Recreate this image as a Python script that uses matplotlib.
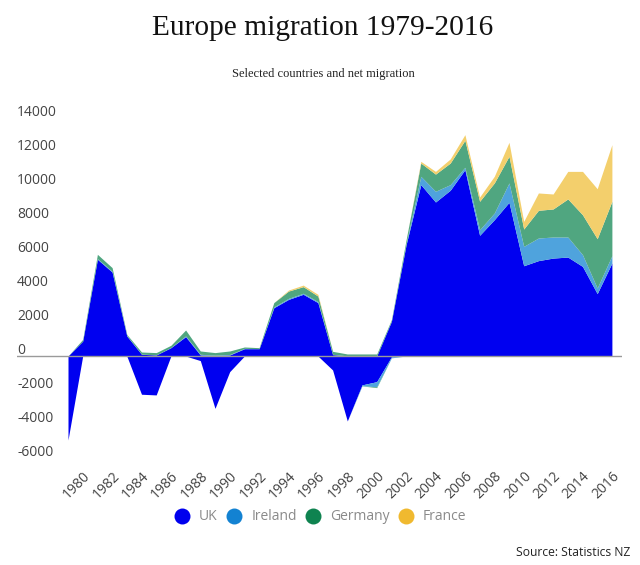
import numpy as np
import matplotlib
matplotlib.use("Agg")
import matplotlib.pyplot as plt
from matplotlib.lines import Line2D
from matplotlib.transforms import ScaledTranslation

years = list(range(1979, 2017))
countries = ["UK", "Ireland", "Germany", "France"]

uk_pos = [0, 880, 5690, 4940, 1180, 100, 60, 490, 1140, 60, 20, 60, 430, 430, 2840, 3330, 3630, 3140, 80,
          0, 0, 0, 2040, 6550, 10080, 9060, 9750, 10960, 7100, 8020, 9040, 5310, 5610, 5760, 5820, 5270, 3670, 5470]
ireland_pos = [0, 0, 40, 40, 20, 10, 10, 10, 40, 40, 30, 30, 20, 0, 50, 60, 60, 60, 20,
               10, 10, 10, 20, 60, 490, 630, 330, 140, 330, 390, 1140, 1140, 1330, 1240, 1180, 690, 330, 430]
germany_pos = [0, 100, 250, 220, 70, 125, 130, 130, 350, 195, 150, 205, 80, 60, 250, 430, 390, 325, 175,
               110, 110, 110, 80, 230, 780, 1010, 1270, 1590, 1670, 1770, 1570, 1020, 1630, 1650, 2240, 2350, 2900, 3200]
france_pos = [0, 0, 0, 0, 0, 0, 0, 0, 0, 0, 0, 0, 0, 0, 0, 60, 90, 100, 0,
              0, 0, 0, 0, 0, 100, 160, 240, 330, 250, 390, 820, 450, 1020, 880, 1620, 2550, 2940, 3330]

uk_neg = [-4940, 0, 0, 0, 0, -2250, -2290, 0, 0, -270, -3080, -920, 0, 0, 0, 0, 0, 0, -820,
          -3820, -1700, -1510, -50, 0, 0, 0, 0, 0, 0, 0, 0, 0, 0, 0, 0, 0, 0, 0]
ireland_neg = [0, 0, 0, 0, 0, 0, 0, 0, 0, 0, 0, 0, 0, 0, 0, 0, 0, 0, 0,
               0, -50, -300, -60, 0, 0, 0, 0, 0, 0, 0, 0, 0, 0, 0, 0, 0, 0, 0]
germany_neg = [0, 0, 0, 0, 0, 0, 0, 0, 0, 0, 0, 0, 0, 0, 0, 0, 0, 0, 0,
               0, -10, -50, 0, 0, 0, 0, 0, 0, 0, 0, 0, 0, 0, 0, 0, 0, 0, 0]

y_ticks = list(range(-6000, 14001, 2000))
x_ticks = list(range(1980, 2017, 2))

area_colors = ["#0000f0", "#4fa3dd", "#50a680", "#f3cf6c"]
legend_colors = ["#0000ee", "#1382d2", "#0f8350", "#f0b92f"]

W, H = 640, 565
plt.rcParams["font.family"] = ["Open Sans", "DejaVu Sans"]
fig = plt.figure(figsize=(W / 100, H / 100), dpi=100, facecolor="white")
L, R, T, B = 17, 622, 100, 460
ax = fig.add_axes([L / W, 1 - B / H, (R - L) / W, (B - T) / H])

x = np.array(years)
for stack in ([uk_pos, ireland_pos, germany_pos, france_pos], [uk_neg, ireland_neg, germany_neg]):
    base = np.zeros(len(x))
    for vals, c in zip(stack, area_colors):
        top = base + np.array(vals, float)
        ax.fill_between(x, base, top, color=c, lw=0)
        base = top

px_x = 14.7
ax.set_xlim(1979 - (68 - L) / px_x, 1979 + (R - 68) / px_x)
px_y = 0.017
ax.set_ylim(-(B - 356) / px_y, (356 - T) / px_y)
ax.axhline(0, color="#9a9a9a", lw=1, zorder=5)
for s in ax.spines.values():
    s.set_visible(False)

ax.set_yticks(y_ticks)
ax.set_yticklabels([str(v) for v in y_ticks])
ax.tick_params(axis="y", length=0, pad=0, labelsize=10, labelcolor="#444444")
shift = ScaledTranslation(0, -1.2 / 72, fig.dpi_scale_trans)
for t in ax.get_yticklabels():
    t.set_ha("left")
    t.set_va("bottom")
    t.set_transform(t.get_transform() + shift)

ax.set_xticks(x_ticks)
ax.set_xticklabels([str(v) for v in x_ticks], rotation=45, ha="right", rotation_mode="anchor")
ax.tick_params(axis="x", length=0, pad=6, labelsize=10, labelcolor="#444444")

fig.text(323 / W, 1 - 28 / H, "Europe migration 1979-2016", family=["Liberation Serif"],
         fontsize=21.2, color="#111111", ha="center", va="center")
fig.text(323 / W, 1 - 74 / H, "Selected countries and net migration", family=["Liberation Serif"],
         fontsize=9, color="#222222", ha="center", va="center")
fig.text(630 / W, 1 - 552 / H, "Source: Statistics NZ", fontsize=8.7, color="#222222", ha="right", va="center")

handles = [Line2D([], [], marker="o", ls="", ms=11.5, color=c, mew=0) for c in legend_colors]
fig.legend(handles, countries, ncol=4, loc="center", bbox_to_anchor=(320 / W, 1 - 517 / H), frameon=False,
           fontsize=10, labelcolor="#8a8a8a", handletextpad=0.65, columnspacing=0.55, handlelength=1.2)

fig.savefig("out.png", dpi=100, facecolor="white")
